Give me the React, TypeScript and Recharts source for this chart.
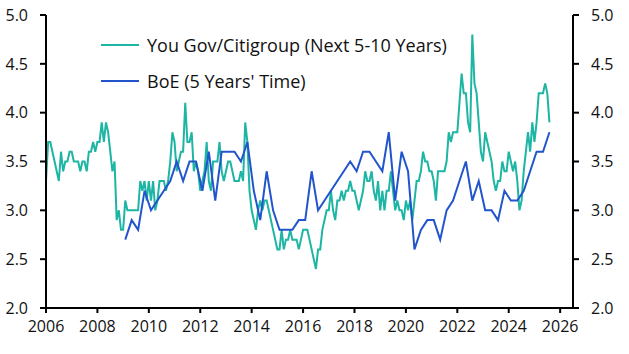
import React from 'react';
import { LineChart, Line, XAxis, YAxis } from 'recharts';

// YouGov/Citigroup 5-10yr inflation expectations, monthly from Jan 2006 (one row per year)
const youGov = [
  3.3, 3.7, 3.7, 3.6, 3.5, 3.4, 3.3, 3.6, 3.4, 3.5, 3.5, 3.6,
  3.6, 3.5, 3.5, 3.5, 3.4, 3.5, 3.5, 3.4, 3.6, 3.6, 3.7, 3.6,
  3.7, 3.7, 3.9, 3.7, 3.9, 3.8, 3.6, 3.4, 3.5, 2.9, 3.0, 2.8,
  2.8, 3.1, 3.0, 3.0, 3.0, 3.0, 3.0, 3.0, 3.3, 3.2, 3.3, 3.1,
  3.3, 3.1, 3.3, 3.0, 3.1, 3.3, 3.3, 3.3, 3.2, 3.3, 3.5, 3.8,
  3.7, 3.4, 3.5, 3.6, 3.6, 4.1, 3.7, 3.7, 3.8, 3.4, 3.5, 3.4,
  3.2, 3.3, 3.4, 3.7, 3.3, 3.2, 3.5, 3.5, 3.5, 3.7, 3.4, 3.3,
  3.4, 3.5, 3.5, 3.4, 3.3, 3.3, 3.3, 3.4, 3.3, 3.9, 3.7, 3.2,
  3.0, 2.9, 2.8, 3.0, 3.1, 3.0, 3.1, 3.1, 3.0, 2.9, 2.8, 2.7,
  2.6, 2.6, 2.8, 2.6, 2.7, 2.7, 2.8, 2.7, 2.7, 2.7, 2.6, 2.7,
  2.8, 2.8, 2.8, 2.7, 2.6, 2.5, 2.4, 2.6, 2.6, 2.8, 2.9, 3.0,
  3.0, 3.2, 3.0, 2.9, 3.1, 3.1, 3.2, 3.1, 3.2, 3.2, 3.3, 3.2,
  3.2, 3.1, 3.0, 3.1, 3.2, 3.4, 3.3, 3.3, 3.4, 3.2, 3.1, 3.3,
  3.0, 3.2, 3.0, 3.2, 3.2, 3.4, 3.2, 3.0, 3.1, 3.0, 3.0, 2.9,
  3.1, 3.0, 3.1, 2.9, 3.1, 3.3, 3.3, 3.4, 3.6, 3.5, 3.5, 3.4,
  3.4, 3.3, 3.1, 3.4, 3.4, 3.4, 3.4, 3.5, 3.8, 3.7, 3.8, 3.8,
  3.8, 4.1, 4.4, 4.2, 4.2, 3.9, 3.8, 4.8, 4.3, 4.2, 3.9, 3.6,
  3.5, 3.8, 3.7, 3.6, 3.5, 3.3, 3.2, 3.3, 3.3, 3.5, 3.4, 3.4,
  3.6, 3.5, 3.4, 3.5, 3.3, 3.0, 3.1, 3.4, 3.6, 3.8, 3.6, 3.9,
  3.7, 3.9, 4.2, 4.2, 4.2, 4.3, 4.2, 3.9,
];

// BoE/Ipsos survey, 5 years' time, quarterly (Feb/May/Aug/Nov) from Feb 2009
const boeFirstMonth = 37;
const boe = [
  2.7, 2.9, 2.8, 3.2, 3.0, 3.1, 3.2, 3.3, 3.5, 3.3, 3.5, 3.5,
  3.2, 3.6, 3.1, 3.6, 3.6, 3.6, 3.5, 3.7, 3.2, 2.9, 3.4, 3.0,
  2.8, 2.8, 2.8, 2.9, 2.9, 3.4, 3.0, 3.1, 3.2, 3.3, 3.4, 3.5,
  3.4, 3.6, 3.6, 3.5, 3.4, 3.8, 3.1, 3.6, 3.4, 2.6, 2.8, 2.9,
  2.9, 2.7, 3.0, 3.1, 3.3, 3.5, 3.1, 3.3, 3.0, 3.0, 2.9, 3.2,
  3.1, 3.1, 3.2, 3.4, 3.6, 3.6, 3.8,
];

const yearTicks = [2006, 2008, 2010, 2012, 2014, 2016, 2018, 2020, 2022, 2024, 2026];
const valueTicks = [2, 2.5, 3, 3.5, 4, 4.5, 5];

const TEAL = '#1db5a3';
const BLUE = '#2255cc';
const FONT = '"Open Sans", "Noto Sans", sans-serif';

const data = youGov.map((v, m) => {
  const k = m - boeFirstMonth;
  const b = k >= 0 && k % 3 === 0 ? boe[k / 3] : null;
  return { t: 2006 + m / 12, yougov: v, boe: b ?? null };
});

const legendItems = [
  { label: 'You Gov/Citigroup (Next 5-10 Years)', color: TEAL },
  { label: "BoE (5 Years' Time)", color: BLUE },
];

const tickStyle = { fontFamily: FONT, fontSize: 16, fill: '#111' };
const axisLine = { stroke: '#000', strokeWidth: 2 };

export default function App() {
  return (
    <div style={{ position: 'absolute', left: 0, top: 0, width: 629, height: 354, background: '#fff' }}>
      <LineChart width={629} height={354} data={data} margin={{ top: 15, right: 0, left: 0, bottom: 0 }}>
        <XAxis
          dataKey="t"
          type="number"
          domain={[2006, 2026.5]}
          ticks={yearTicks}
          allowDataOverflow
          height={46}
          tick={tickStyle}
          tickSize={5}
          tickMargin={8}
          axisLine={axisLine}
          tickLine={axisLine}
        />
        <YAxis
          yAxisId="left"
          orientation="left"
          domain={[2, 5]}
          ticks={valueTicks}
          width={46}
          tick={tickStyle}
          tickSize={6}
          tickMargin={12}
          tickFormatter={v => v.toFixed(1)}
          axisLine={axisLine}
          tickLine={axisLine}
        />
        <YAxis
          yAxisId="right"
          orientation="right"
          domain={[2, 5]}
          ticks={valueTicks}
          width={56}
          tick={tickStyle}
          tickSize={6}
          tickMargin={12}
          tickFormatter={v => v.toFixed(1)}
          axisLine={axisLine}
          tickLine={axisLine}
        />
        <Line
          yAxisId="left"
          dataKey="yougov"
          stroke={TEAL}
          strokeWidth={2}
          dot={false}
          isAnimationActive={false}
        />
        <Line
          yAxisId="right"
          dataKey="boe"
          stroke={BLUE}
          strokeWidth={2}
          dot={false}
          connectNulls
          isAnimationActive={false}
        />
      </LineChart>
      <div style={{ position: 'absolute', left: 101, top: 27, fontFamily: FONT, fontSize: 18, color: '#111' }}>
        {legendItems.map(item => (
          <div key={item.label} style={{ display: 'flex', alignItems: 'center', height: 36 }}>
            <svg width={46} height={10}>
              <line x1={0} y1={5} x2={38} y2={5} stroke={item.color} strokeWidth={2} />
            </svg>
            <span>{item.label}</span>
          </div>
        ))}
      </div>
    </div>
  );
}
